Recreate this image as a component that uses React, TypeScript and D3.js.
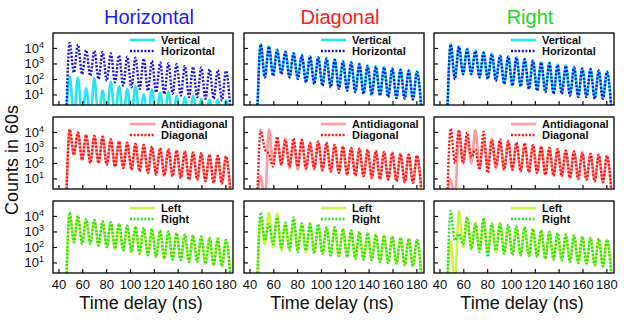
import React from "react";
import * as d3 from "d3";

// layout of the 3x3 grid
const colX = [53, 244, 434];
const rowY = [33, 117, 201];
const panelW = 180;
const panelH = 72;

const columnTitles = ["Horizontal", "Diagonal", "Right"];
const titleColors = ["#1a1aff", "#ff1a1a", "#22d622"];
const rowLegends = [
  ["Vertical", "Horizontal"],
  ["Antidiagonal", "Diagonal"],
  ["Left", "Right"],
];
const solidColors = ["#24e6ee", "#ff9c9c", "#c8f546"];
const dottedColors = ["#1414e6", "#ff1414", "#2ae02a"];

const xTicks = [40, 60, 80, 100, 120, 140, 160, 180];
const yTickExps = [1, 2, 3, 4];

// times (ns) of the oscillation maxima and minima
const riseTime = 46;
const peakTimes = [49, 55.9, 62.8, 69.7, 76.6, 83.5, 90.4, 97.3, 104.2, 111.1, 118, 124.9, 131.8, 138.7, 145.6, 152.5, 159.4, 166.3, 173.2, 180.1];
const troughTimes = [52.5, 59.4, 66.3, 73.2, 80.1, 87, 93.9, 100.8, 107.7, 114.6, 121.5, 128.4, 135.3, 142.2, 149.1, 156, 162.9, 169.8, 176.7, 183.6];

// log10(counts) at each maximum / minimum
// column "Horizontal"
const hVertPeaks = [2.24, 2.13, 1.43, 2.07, 1.28, 1.86, 1.56, 1.39, 1.56, 1.07, 1.35, 1.13, 1.18, 0.96, 0.86, 0.96, 0.75, 0.71, 0.71, 0.64];
const hVertTroughs = [-0.5, -0.5, -0.5, -0.5, -0.5, -0.5, -0.5, -0.5, -0.5, -0.5, -0.5, -0.5, -0.5, -0.5, -0.5, -0.5, -0.5, -0.5, -0.5, -0.5];
const hHorPeaks = [4.36, 4.25, 3.89, 3.85, 3.77, 3.68, 3.55, 3.47, 3.41, 3.34, 3.19, 3.09, 3.05, 2.98, 2.87, 2.8, 2.77, 2.66, 2.6, 2.55];
const hHorTroughs = [2.45, 2.34, 2.24, 2.03, 1.92, 1.82, 1.6, 1.5, 1.39, 1.28, 1.18, 1.07, 1.07, 0.96, 0.86, 0.86, 0.75, 0.75, 0.64, 0.3];
const hAntiPeaks = [4.19, 4.0, 3.83, 3.77, 3.72, 3.55, 3.41, 3.34, 3.26, 3.19, 3.09, 2.98, 2.92, 2.83, 2.77, 2.7, 2.66, 2.56, 2.49, 2.45];
const hAntiTroughs = [2.56, 2.24, 2.03, 2.03, 1.92, 1.81, 1.71, 1.6, 1.5, 1.39, 1.28, 1.22, 1.18, 1.07, 0.96, 0.96, 0.86, 0.75, 0.71, 0.4];
const hDiagPeaks = [4.19, 4.0, 3.83, 3.77, 3.72, 3.55, 3.41, 3.34, 3.26, 3.19, 3.09, 2.98, 2.92, 2.83, 2.77, 2.7, 2.66, 2.56, 2.49, 2.45];
const hDiagTroughs = [2.56, 2.24, 2.03, 2.03, 1.92, 1.81, 1.71, 1.6, 1.5, 1.39, 1.28, 1.22, 1.18, 1.07, 0.96, 0.96, 0.86, 0.75, 0.71, 0.4];
const hLeftPeaks = [4.25, 4.04, 3.83, 3.77, 3.68, 3.62, 3.51, 3.41, 3.34, 3.26, 3.19, 3.09, 3.02, 2.92, 2.83, 2.77, 2.7, 2.62, 2.56, 2.49];
const hLeftTroughs = [2.34, 2.24, 2.24, 2.13, 2.03, 1.92, 1.81, 1.71, 1.6, 1.5, 1.39, 1.28, 1.22, 1.18, 1.07, 1.07, 0.96, 0.86, 0.79, 0.4];
const hRightPeaks = [4.25, 4.04, 3.83, 3.77, 3.68, 3.62, 3.51, 3.41, 3.34, 3.26, 3.19, 3.09, 3.02, 2.92, 2.83, 2.77, 2.7, 2.62, 2.56, 2.49];
const hRightTroughs = [2.34, 2.24, 2.24, 2.13, 2.03, 1.92, 1.81, 1.71, 1.6, 1.5, 1.39, 1.28, 1.22, 1.18, 1.07, 1.07, 0.96, 0.86, 0.79, 0.4];

// column "Diagonal"
const dVertPeaks = [4.3, 4.15, 3.94, 3.81, 3.72, 3.6, 3.51, 3.45, 3.38, 3.3, 3.19, 3.13, 3.02, 2.92, 2.87, 2.81, 2.74, 2.66, 2.6, 2.53];
const dVertTroughs = [2.17, 2.28, 2.38, 2.17, 2.07, 1.86, 1.75, 1.64, 1.55, 1.44, 1.33, 1.22, 1.11, 1.04, 1.0, 0.9, 0.83, 0.79, 0.75, 0.3];
const dHorPeaks = [4.25, 4.11, 3.89, 3.77, 3.68, 3.55, 3.47, 3.41, 3.34, 3.26, 3.15, 3.09, 2.98, 2.87, 2.83, 2.77, 2.7, 2.62, 2.55, 2.49];
const dHorTroughs = [2.13, 2.24, 2.34, 2.13, 2.03, 1.81, 1.71, 1.6, 1.5, 1.39, 1.28, 1.18, 1.07, 1.0, 0.96, 0.86, 0.79, 0.75, 0.71, 0.3];
const dAntiPeaks = [1.2, 4.2, 3.5, 3.6, 3.4, 3.55, 3.35, 3.4, 3.3, 3.19, 3.09, 3.0, 2.95, 2.87, 2.8, 2.75, 2.7, 2.62, 2.56, 2.5];
const dAntiTroughs = [-0.5, 2.1, 1.9, 1.7, 1.6, 1.6, 1.6, 1.5, 1.45, 1.39, 1.28, 1.22, 1.18, 1.07, 1.0, 0.96, 0.86, 0.8, 0.75, 0.4];
const dDiagPeaks = [4.15, 2.6, 3.72, 3.51, 3.62, 3.51, 3.3, 3.41, 3.35, 3.19, 3.09, 3.0, 2.95, 2.87, 2.8, 2.75, 2.7, 2.62, 2.56, 2.5];
const dDiagTroughs = [2.9, 1.8, 1.92, 1.81, 1.81, 1.71, 1.71, 1.6, 1.5, 1.39, 1.28, 1.22, 1.18, 1.07, 1.0, 0.96, 0.86, 0.8, 0.75, 0.4];
const dLeftPeaks = [3.9, 4.25, 4.2, 3.5, 3.8, 3.5, 3.6, 3.4, 3.3, 3.3, 3.19, 3.09, 3.0, 2.92, 2.83, 2.77, 2.7, 2.62, 2.56, 2.49];
const dLeftTroughs = [2.2, 2.0, 1.8, 1.9, 1.8, 1.7, 1.7, 1.6, 1.5, 1.45, 1.39, 1.28, 1.22, 1.18, 1.07, 1.0, 0.96, 0.86, 0.79, 0.4];
const dRightPeaks = [4.25, 3.5, 3.94, 3.6, 3.94, 3.55, 3.5, 3.5, 3.3, 3.3, 3.19, 3.09, 3.0, 2.92, 2.83, 2.77, 2.7, 2.62, 2.56, 2.49];
const dRightTroughs = [2.45, 2.2, 2.0, 1.8, 1.7, 1.8, 1.6, 1.6, 1.5, 1.45, 1.39, 1.28, 1.22, 1.18, 1.07, 1.0, 0.96, 0.86, 0.79, 0.4];

// column "Right"
const rVertPeaks = [4.3, 4.15, 3.98, 3.87, 3.76, 3.66, 3.55, 3.51, 3.45, 3.34, 3.23, 3.13, 3.09, 2.96, 2.91, 2.81, 2.74, 2.7, 2.6, 2.53];
const rVertTroughs = [2.07, 2.38, 2.38, 2.17, 2.07, 1.96, 1.75, 1.64, 1.59, 1.44, 1.33, 1.22, 1.11, 1.11, 1.0, 0.9, 0.9, 0.79, 0.79, 0.3];
const rHorPeaks = [4.25, 4.11, 3.94, 3.83, 3.72, 3.62, 3.51, 3.47, 3.41, 3.3, 3.19, 3.09, 3.05, 2.92, 2.87, 2.77, 2.7, 2.66, 2.56, 2.49];
const rHorTroughs = [2.03, 2.34, 2.34, 2.13, 2.03, 1.92, 1.71, 1.6, 1.55, 1.39, 1.28, 1.18, 1.07, 1.07, 0.96, 0.86, 0.86, 0.75, 0.75, 0.3];
const rAntiPeaks = [1.0, 4.1, 3.7, 4.15, 3.4, 3.6, 3.4, 3.5, 3.3, 3.25, 3.19, 3.09, 3.0, 2.92, 2.83, 2.77, 2.7, 2.62, 2.56, 2.49];
const rAntiTroughs = [-0.5, 2.0, 2.0, 1.7, 1.8, 1.7, 1.6, 1.6, 1.5, 1.45, 1.39, 1.28, 1.22, 1.18, 1.07, 1.0, 0.96, 0.86, 0.79, 0.4];
const rDiagPeaks = [4.25, 4.15, 4.0, 2.9, 4.05, 3.5, 3.55, 3.4, 3.35, 3.3, 3.19, 3.09, 3.0, 2.92, 2.83, 2.77, 2.7, 2.62, 2.56, 2.49];
const rDiagTroughs = [2.03, 2.03, 2.4, 1.6, 1.4, 1.8, 1.6, 1.6, 1.5, 1.45, 1.39, 1.28, 1.22, 1.18, 1.07, 1.0, 0.96, 0.86, 0.79, 0.4];
const rLeftPeaks = [2.45, 4.36, 3.94, 3.6, 3.8, 3.5, 3.6, 3.4, 3.35, 3.3, 3.19, 3.09, 3.0, 2.92, 2.83, 2.77, 2.7, 2.62, 2.56, 2.49];
const rLeftTroughs = [-0.5, 2.03, 1.9, 1.8, 1.7, 1.7, 1.6, 1.6, 1.5, 1.45, 1.39, 1.28, 1.22, 1.18, 1.07, 1.0, 0.96, 0.86, 0.79, 0.4];
const rRightPeaks = [4.36, 2.87, 3.94, 3.5, 3.9, 3.55, 3.5, 3.45, 3.35, 3.3, 3.19, 3.09, 3.0, 2.92, 2.83, 2.77, 2.7, 2.62, 2.56, 2.49];
const rRightTroughs = [2.45, 2.2, 1.9, 1.7, 1.4, 1.8, 1.6, 1.5, 1.5, 1.45, 1.39, 1.28, 1.22, 1.18, 1.07, 1.0, 0.96, 0.86, 0.79, 0.4];

// [row][col] -> [solid series, dotted series]
const panelSeries = [
  [[hVertPeaks, hVertTroughs, hHorPeaks, hHorTroughs], [dVertPeaks, dVertTroughs, dHorPeaks, dHorTroughs], [rVertPeaks, rVertTroughs, rHorPeaks, rHorTroughs]],
  [[hAntiPeaks, hAntiTroughs, hDiagPeaks, hDiagTroughs], [dAntiPeaks, dAntiTroughs, dDiagPeaks, dDiagTroughs], [rAntiPeaks, rAntiTroughs, rDiagPeaks, rDiagTroughs]],
  [[hLeftPeaks, hLeftTroughs, hRightPeaks, hRightTroughs], [dLeftPeaks, dLeftTroughs, dRightPeaks, dRightTroughs], [rLeftPeaks, rLeftTroughs, rRightPeaks, rRightTroughs]],
];

const font = "'Liberation Sans', Arial, Helvetica, sans-serif";

function toPoints(peaks: number[], troughs: number[]) {
  const pts: [number, number][] = [[riseTime, -0.6]];
  peaks.forEach((p, i) => {
    pts.push([peakTimes[i], p]);
    pts.push([troughTimes[i], troughs[i]]);
  });
  return pts;
}

function Panel({ row, col }: { row: number; col: number }) {
  const x0 = colX[col];
  const y0 = rowY[row];
  const x = d3.scaleLinear().domain([35, 186]).range([x0, x0 + panelW]);
  const y = d3.scaleLinear().domain([0.35, 5]).range([y0 + panelH, y0]);
  const line = d3
    .line<[number, number]>()
    .x((d) => x(d[0]))
    .y((d) => y(d[1]))
    .curve(d3.curveMonotoneX);
  const [sp, st, dp, dt] = panelSeries[row][col];
  const clipId = `clip-${row}-${col}`;
  const [solidName, dottedName] = rowLegends[row];
  const lx = x0 + 77;
  return (
    <g>
      <defs>
        <clipPath id={clipId}>
          <rect x={x0} y={y0} width={panelW} height={panelH} />
        </clipPath>
      </defs>
      <g clipPath={`url(#${clipId})`}>
        <path d={line(toPoints(sp, st)) || ""} fill="none" stroke={solidColors[row]} strokeWidth={2.6} />
        <path d={line(toPoints(dp, dt)) || ""} fill="none" stroke={dottedColors[row]} strokeWidth={2.4} strokeDasharray="2,1.6" />
      </g>
      {/* legend */}
      <line x1={lx} x2={lx + 25} y1={y0 + 7} y2={y0 + 7} stroke={solidColors[row]} strokeWidth={2.6} />
      <line x1={lx} x2={lx + 25} y1={y0 + 18} y2={y0 + 18} stroke={dottedColors[row]} strokeWidth={2.4} strokeDasharray="2,1.6" />
      <text x={lx + 31} y={y0 + 11} fontFamily={font} fontWeight="bold" fontSize={11} fill="#111">{solidName}</text>
      <text x={lx + 31} y={y0 + 22} fontFamily={font} fontWeight="bold" fontSize={11} fill="#111">{dottedName}</text>
      {/* ticks */}
      {xTicks.map((t) => (
        <line key={t} x1={x(t)} x2={x(t)} y1={y0 + panelH} y2={y0 + panelH - 4} stroke="#111" strokeWidth={1.2} />
      ))}
      {yTickExps.map((e) => (
        <line key={e} x1={x0} x2={x0 + 4} y1={y(e)} y2={y(e)} stroke="#111" strokeWidth={1.2} />
      ))}
      <rect x={x0} y={y0} width={panelW} height={panelH} fill="none" stroke="#111" strokeWidth={1.4} />
      {/* y tick labels in the first column */}
      {col === 0 &&
        yTickExps.map((e) => (
          <text key={e} x={x0 - 9} y={y(e) + 4.5} textAnchor="end" fontFamily={font} fontSize={13} fill="#111">
            10
            <tspan dy={-5} fontSize={9}>{e}</tspan>
          </text>
        ))}
      {/* x tick labels in the bottom row */}
      {row === 2 &&
        xTicks.map((t) => (
          <text key={t} x={x(t)} y={y0 + panelH + 16} textAnchor="middle" fontFamily={font} fontSize={13} fill="#111">
            {t}
          </text>
        ))}
      {row === 2 && (
        <text x={x0 + panelW / 2 - 2} y={y0 + panelH + 36} textAnchor="middle" fontFamily={font} fontSize={18} fill="#111">
          Time delay (ns)
        </text>
      )}
      {row === 0 && (
        <text x={x0 + panelW / 2 + 6} y={24} textAnchor="middle" fontFamily={font} fontSize={20} fill={titleColors[col]}>
          {columnTitles[col]}
        </text>
      )}
    </g>
  );
}

export default function App() {
  const cells = [];
  for (let r = 0; r < 3; r++) for (let c = 0; c < 3; c++) cells.push([r, c]);
  return (
    <svg width={624} height={328} style={{ position: "absolute", left: 0, top: 0, background: "#fff" }}>
      <rect width={624} height={328} fill="#fff" />
      {cells.map(([r, c]) => (
        <Panel key={`${r}-${c}`} row={r} col={c} />
      ))}
      <text transform="translate(18,160) rotate(-90)" textAnchor="middle" fontFamily={font} fontSize={18} fill="#111">
        Counts in 60s
      </text>
    </svg>
  );
}
